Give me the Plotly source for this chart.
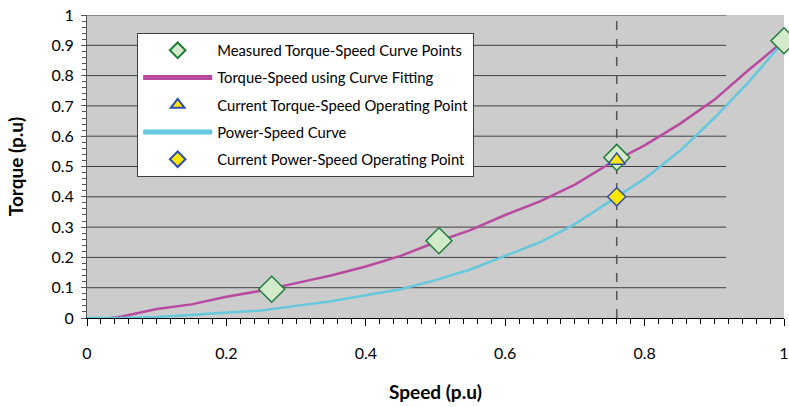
import plotly.graph_objects as go

# Data
speed = [0.0, 0.05, 0.1, 0.15, 0.2, 0.25, 0.3, 0.35, 0.4, 0.45, 0.5,
         0.55, 0.6, 0.65, 0.7, 0.75, 0.8, 0.85, 0.9, 0.95, 1.0]
torque_fit = [-0.01, 0.005, 0.03, 0.045, 0.07, 0.09, 0.115, 0.14, 0.17, 0.205, 0.25,
              0.29, 0.34, 0.385, 0.44, 0.51, 0.57, 0.64, 0.72, 0.82, 0.915]
power_curve = [0.0, 0.0, 0.003, 0.01, 0.018, 0.025, 0.04, 0.055, 0.075, 0.095, 0.125,
               0.16, 0.205, 0.25, 0.31, 0.385, 0.46, 0.55, 0.66, 0.78, 0.915]
measured_speed = [0.265, 0.505, 0.76, 1.0]
measured_torque = [0.095, 0.255, 0.53, 0.915]
op_speed = [0.76]
op_torque = [0.52]
op_power = [0.40]
y_ticks = [0, 0.1, 0.2, 0.3, 0.4, 0.5, 0.6, 0.7, 0.8, 0.9, 1]
x_ticks = [0, 0.2, 0.4, 0.6, 0.8, 1]

FONT = "Lato"

fig = go.Figure()
fig.add_trace(go.Scatter(x=speed, y=torque_fit, mode="lines",
                         name="Torque-Speed using Curve Fitting", legendgroup="g2",
                         line=dict(color="#b84a9f", width=2.5), legendrank=2))
fig.add_trace(go.Scatter(x=speed, y=power_curve, mode="lines",
                         name="Power-Speed Curve", legendgroup="g4",
                         line=dict(color="#66c8dc", width=2.5), legendrank=4))
fig.add_trace(go.Scatter(x=measured_speed, y=measured_torque, mode="markers",
                         name="Measured Torque-Speed Curve Points", legendgroup="g1",
                         marker=dict(symbol="diamond", size=20, color="#d3ebcb",
                                     line=dict(color="#1e7d3c", width=1.5)),
                         cliponaxis=False, legendrank=1))
fig.add_trace(go.Scatter(x=op_speed, y=op_torque, mode="markers",
                         name="Current Torque-Speed Operating Point", legendgroup="g3",
                         marker=dict(symbol="triangle-up", size=15, color="#ffe600",
                                     line=dict(color="#2f4fa8", width=1.5)),
                         legendrank=3))
fig.add_trace(go.Scatter(x=op_speed, y=op_power, mode="markers",
                         name="Current Power-Speed Operating Point", legendgroup="g5",
                         marker=dict(symbol="diamond", size=14, color="#ffe600",
                                     line=dict(color="#2f4fa8", width=1.5)),
                         legendrank=5))

shapes = []
for yv in y_ticks[1:]:
    shapes.append(dict(type="line", xref="x", yref="y", x0=0, x1=0.917, y0=yv, y1=yv,
                       line=dict(color="#404040", width=1), layer="below"))
shapes.append(dict(type="line", xref="x", yref="y", x0=op_speed[0], x1=op_speed[0],
                   y0=0, y1=1, line=dict(color="#555555", width=1.5, dash="dash"),
                   layer="below"))

fig.update_layout(
    width=789, height=407,
    margin=dict(l=87, r=5, t=15, b=89),
    paper_bgcolor="white", plot_bgcolor="#cccccc",
    font=dict(family=FONT, color="black", size=16),
    shapes=shapes,
    showlegend=True,
    legend=dict(x=0.072, y=0.94, xanchor="left", yanchor="top",
                bgcolor="white", bordercolor="#404040", borderwidth=1,
                font=dict(size=14.8, family=FONT), itemsizing="constant",
                itemwidth=69, traceorder="grouped", tracegroupgap=5),
    xaxis=dict(range=[0, 1], tickvals=x_ticks, ticktext=[str(v) for v in x_ticks],
               showgrid=False, zeroline=False, showline=True, linecolor="black",
               ticks="outside", ticklen=7, tickcolor="black", automargin=False,
               minor=dict(dtick=0.02, ticks="outside", ticklen=5, tickcolor="black"),
               ticklabelstandoff=14, ticklabeloverflow="allow",
               title=dict(text="<b>Speed (p.u)</b>", font=dict(size=19), standoff=24)),
    yaxis=dict(range=[0, 1], tickvals=y_ticks, ticktext=[str(v) for v in y_ticks],
               showgrid=False, zeroline=False, showline=True, linecolor="#555555",
               ticks="outside", ticklen=5, tickcolor="#555555", automargin=False,
               minor=dict(dtick=0.02, ticks="outside", ticklen=4, tickcolor="#555555"),
               ticklabelstandoff=4, ticklabeloverflow="allow",
               title=dict(text="<b>Torque (p.u)</b>", font=dict(size=19), standoff=22)),
)

# remove the default 8px page margin so the figure fills the window exactly
fig.write_html("out.html",
               config={"displayModeBar": False},
               post_script="document.body.style.margin='0';document.body.style.overflow='hidden';")
